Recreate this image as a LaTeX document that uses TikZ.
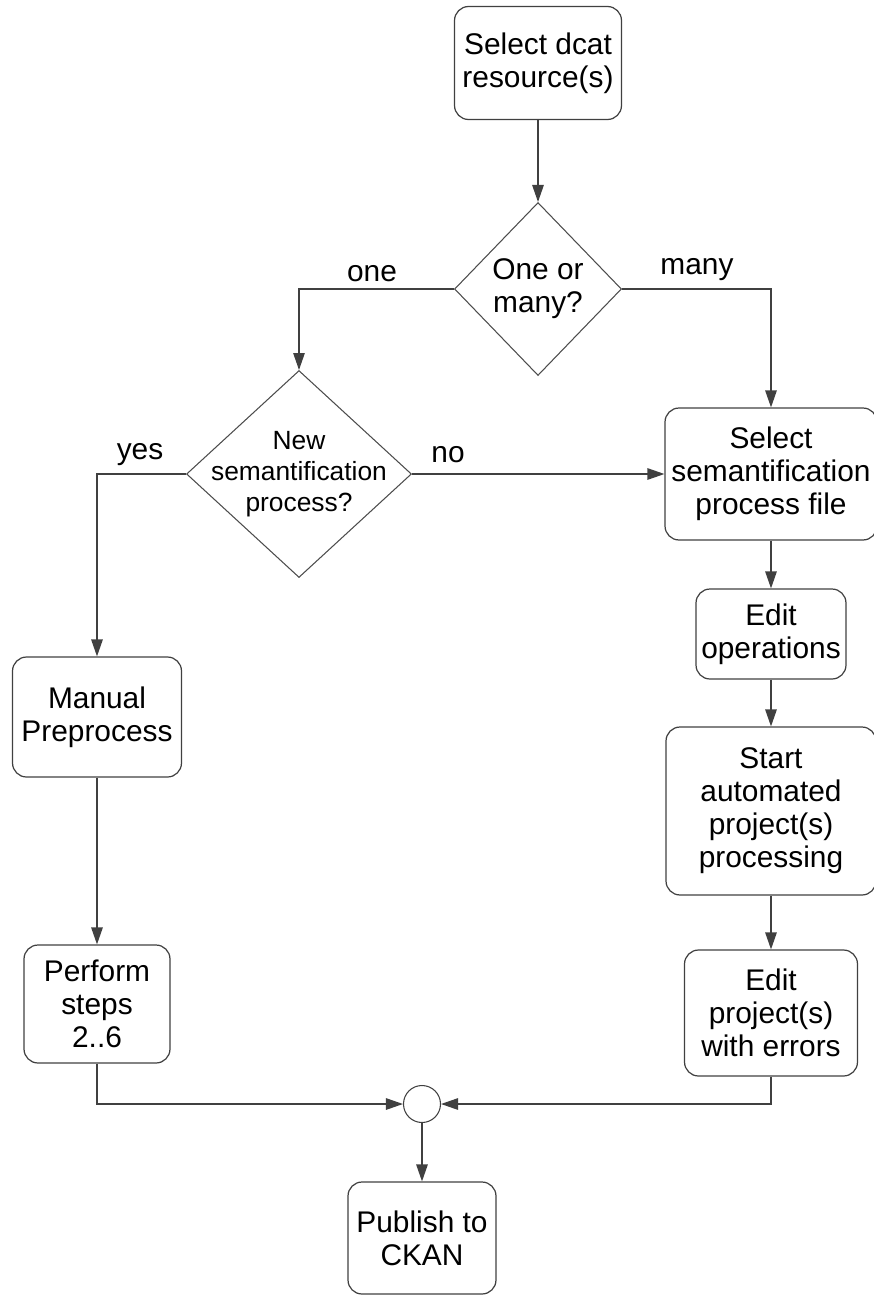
\documentclass[tikz,border=0pt]{standalone}
\usepackage{fontspec}
\setmainfont{Liberation Sans}
\usetikzlibrary{shapes.geometric,arrows.meta}

\tikzset{
	box/.style={draw=black!75, line width=0.7pt, rounded corners=0.28cm, align=center, inner sep=1pt, font=\fontsize{17}{18.8}\selectfont},
	decision/.style={draw=black!70, line width=0.6pt, diamond, inner sep=0pt},
	dtext/.style={align=center, font=\fontsize{15}{17.6}\selectfont},
	lbl/.style={font=\fontsize{17}{18.8}\selectfont},
	arr/.style={draw=black!75, line width=0.7pt, -{Triangle[length=3.4mm, width=2.3mm]}}
}

\begin{document}
\begin{tikzpicture}[x=0.02cm, y=-0.02cm]
	\useasboundingbox (0,0) rectangle (873,1295);
	
	%top
	\node (sel) at (538, 63) [box, minimum width=3.34cm, minimum height=2.26cm]{Select dcat\\resource(s)};
	\node (many) at (538, 289) [decision, minimum width=3.34cm, minimum height=3.46cm, label={[dtext, lbl]center:One or\\many?}]{};
	\node (new) at (299, 474) [decision, minimum width=4.5cm, minimum height=4.14cm, label={[dtext]center:New\\semantification\\process?}]{};
	
	%right branch
	\node (spf) at (771, 474) [box, minimum width=4.24cm, minimum height=2.64cm]{Select\\semantification\\process file};
	\node (eop) at (771, 634) [box, minimum width=3.0cm, minimum height=1.8cm]{Edit\\operations};
	\node (sap) at (771, 811) [box, minimum width=4.2cm, minimum height=3.36cm]{Start\\automated\\project(s)\\processing};
	\node (epe) at (771, 1013) [box, minimum width=3.46cm, minimum height=2.52cm]{Edit\\project(s)\\with errors};
	
	%left branch
	\node (man) at (97, 717) [box, minimum width=3.38cm, minimum height=2.4cm]{Manual\\Preprocess};
	\node (per) at (97, 1004) [box, minimum width=2.92cm, minimum height=2.36cm]{Perform\\steps\\2..6};
	
	%bottom
	\node (join) at (422, 1104) [circle, draw=black!75, line width=0.6pt, minimum size=0.74cm, inner sep=0pt]{};
	\node (pub) at (422, 1238) [box, minimum width=2.96cm, minimum height=2.24cm]{Publish to\\CKAN};
	
	\node (lone) at (372, 274) [lbl]{one};
	\node (lmany) at (697, 270) [lbl]{many};
	\node (lyes) at (140, 455) [lbl]{yes};
	\node (lno) at (448, 455) [lbl]{no};
	
	\draw[arr] (sel) -- (many);
	\draw[arr] (many.west) -| (new.north);
	\draw[arr] (many.east) -| (spf.north);
	\draw[arr] (new.west) -| (man.north);
	\draw[arr] (new.east) -- (spf.west);
	\draw[arr] (spf) -- (eop);
	\draw[arr] (eop) -- (sap);
	\draw[arr] (sap) -- (epe);
	\draw[arr] (man) -- (per);
	\draw[arr] (per.south) |- (join.west);
	\draw[arr] (epe.south) |- (join.east);
	\draw[arr] (join) -- (pub);
\end{tikzpicture}
\end{document}
